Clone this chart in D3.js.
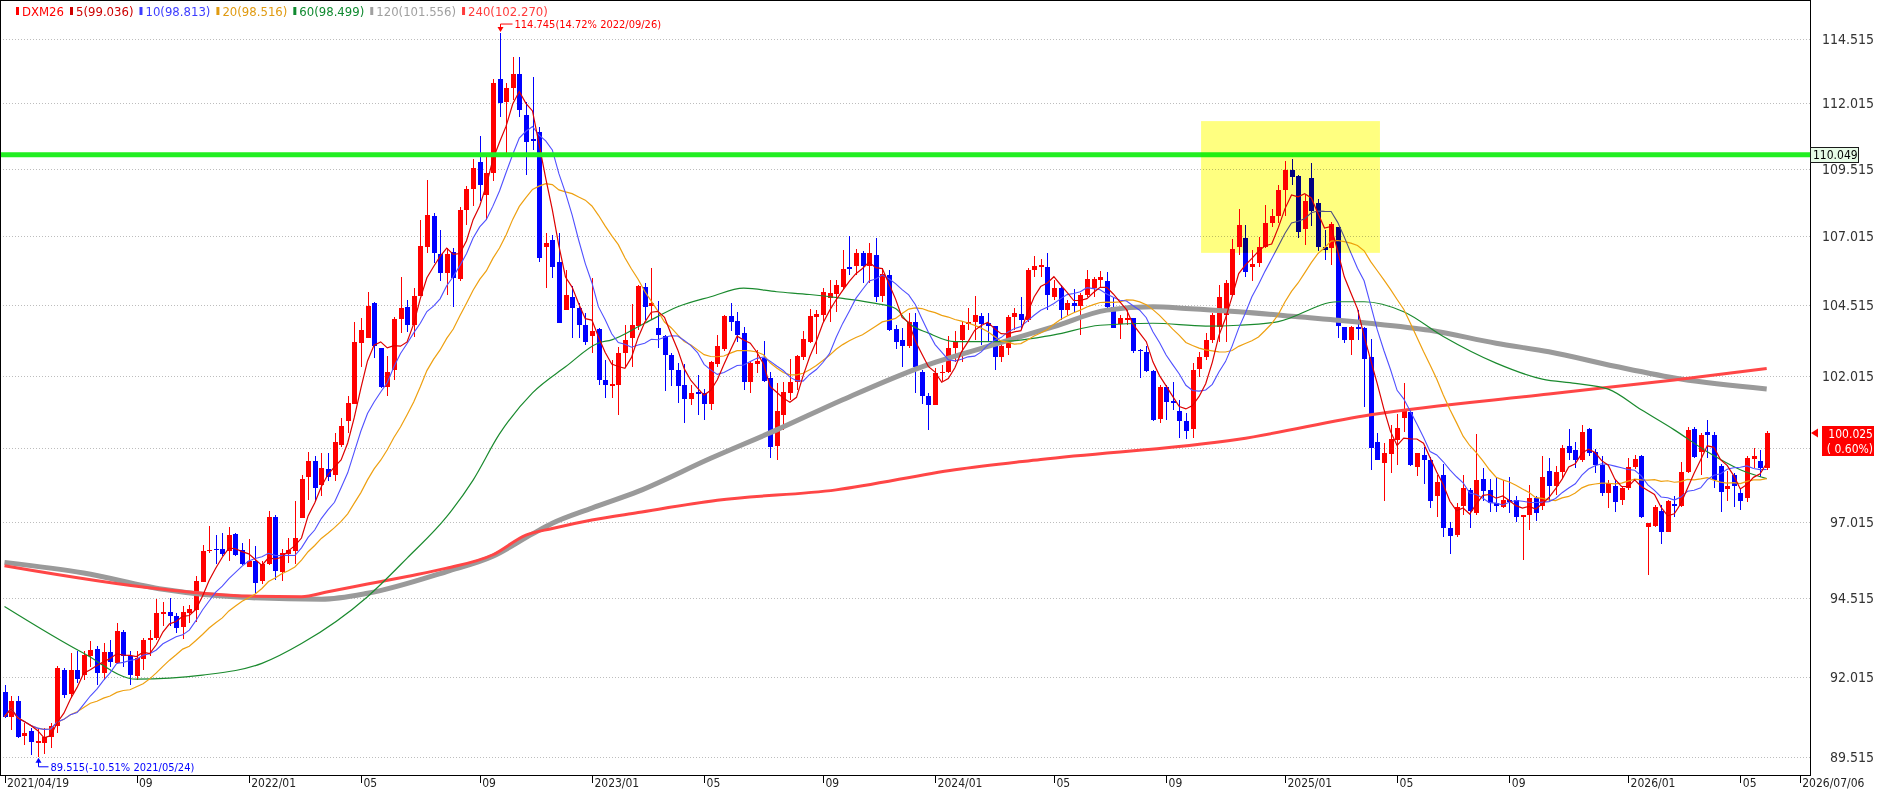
<!DOCTYPE html>
<html>
<head>
<meta charset="utf-8">
<script src="https://cdn.jsdelivr.net/npm/d3@7"></script>
<style>
  body { margin: 0; background: #fff; }
  text { font-family: "DejaVu Sans Condensed", "Liberation Sans Narrow", sans-serif; }
</style>
</head>
<body>
<script>
// weekly candles, DXM26, first week 2021/04/19
const startDate = "2021-04-19";
const endDate = "2026-07-06";

const opens = [
  91.54, 90.76, 91.26, 90.16, 90.32, 89.95, 89.95, 90.12, 90.47, 92.22,
  91.46, 92.22, 92.06, 92.68, 92.90, 92.12, 92.78, 92.45, 93.43, 92.65,
  92.04, 92.57, 93.18, 93.23, 94.02, 94.09, 93.93, 93.59, 94.04, 94.14,
  95.06, 96.05, 96.14, 96.14, 96.08, 96.62, 96.10, 95.55, 95.72, 95.09,
  95.62, 97.20, 95.37, 95.95, 96.08, 97.15, 98.55, 99.06, 98.27, 98.80,
  98.59, 99.62, 100.43, 101.05, 103.16, 103.34, 104.60, 103.01, 101.64, 102.22,
  104.04, 104.46, 103.80, 104.85, 106.64, 107.77, 106.38, 105.68, 106.44, 105.46,
  107.99, 108.75, 109.79, 108.55, 109.35, 112.95, 112.07, 112.59, 113.15, 111.56,
  110.66, 110.90, 106.62, 106.88, 106.07, 104.35, 104.82, 104.40, 103.80, 103.42,
  103.66, 101.87, 101.65, 101.70, 102.80, 103.36, 103.77, 105.17, 104.47, 103.70,
  103.40, 102.75, 102.22, 101.70, 101.22, 101.46, 101.42, 101.02, 102.43, 102.95,
  104.13, 103.95, 103.53, 101.81, 102.43, 102.64, 101.93, 99.59, 100.66, 101.42,
  101.81, 102.66, 103.22, 104.10, 104.17, 104.76, 104.92, 105.17, 105.88, 105.92,
  106.40, 105.92, 106.33, 104.85, 105.61, 103.66, 103.28, 103.05, 103.93, 102.16,
  101.30, 101.00, 102.13, 102.16, 102.98, 103.29, 103.85, 103.93, 104.13, 103.88,
  103.78, 102.66, 103.01, 104.10, 104.20, 104.00, 105.79, 105.88, 105.88, 104.82,
  105.13, 104.34, 104.58, 104.49, 104.88, 105.13, 105.44, 105.37, 104.46, 103.85,
  104.00, 104.05, 102.91, 102.85, 102.20, 100.51, 101.62, 101.12, 100.78, 100.43,
  100.17, 102.24, 102.66, 103.28, 103.75, 104.17, 104.88, 106.64, 106.94, 105.88,
  106.04, 106.64, 107.50, 107.75, 108.73, 109.48, 109.26, 107.30, 109.17, 108.24,
  106.64, 106.60, 107.34, 103.75, 103.29, 103.75, 103.70, 102.68, 99.73, 99.00,
  99.32, 99.80, 100.54, 100.77, 98.88, 99.28, 99.11, 97.88, 98.61, 96.83,
  96.60, 97.55, 98.11, 97.32, 98.46, 98.08, 97.67, 97.52, 97.77, 97.77,
  97.20, 97.26, 97.82, 97.55, 98.75, 98.24, 98.69, 99.59, 99.45, 99.11,
  100.17, 99.39, 98.94, 97.98, 98.24, 97.75, 98.17, 98.87, 99.25, 96.85,
  96.89, 97.40, 96.70, 97.63, 97.56, 98.69, 100.17, 99.39, 100.07, 99.95,
  98.90, 98.13, 98.61, 97.98, 97.84, 99.14, 99.06, 98.84
];

const highs = [
  91.75, 91.39, 91.39, 90.56, 90.40, 90.40, 90.40, 90.57, 92.35, 92.27,
  92.76, 92.81, 92.81, 93.13, 92.97, 93.08, 93.18, 93.72, 93.48, 92.81,
  92.81, 93.23, 93.50, 94.49, 94.41, 94.52, 94.04, 94.27, 94.30, 95.25,
  96.27, 96.89, 96.60, 96.67, 96.85, 96.66, 96.33, 96.46, 96.22, 95.74,
  97.39, 97.26, 96.12, 96.50, 97.71, 98.61, 99.39, 99.25, 99.34, 99.34,
  100.03, 100.55, 101.30, 103.93, 104.07, 105.00, 104.64, 103.01, 102.70, 104.10,
  105.55, 104.70, 105.13, 107.62, 109.11, 107.89, 107.25, 106.59, 106.59, 108.09,
  108.87, 109.88, 110.77, 110.05, 112.95, 114.745, 112.79, 113.82, 113.82, 112.07,
  113.01, 111.10, 107.13, 107.06, 107.13, 105.78, 105.19, 104.58, 104.23, 105.49,
  103.70, 102.56, 102.56, 103.02, 103.80, 104.55, 105.25, 105.31, 105.85, 104.68,
  103.46, 102.80, 102.45, 102.42, 101.70, 102.05, 101.57, 102.52, 103.46, 104.17,
  104.58, 104.29, 103.74, 102.52, 102.91, 103.23, 102.16, 101.78, 101.81, 102.62,
  102.75, 103.59, 104.37, 104.34, 105.13, 105.43, 105.43, 106.52, 107.02, 106.55,
  106.46, 106.76, 106.94, 105.85, 105.80, 103.80, 103.70, 104.23, 104.23, 102.22,
  101.40, 102.28, 102.40, 103.40, 103.59, 103.93, 104.40, 104.85, 104.23, 104.23,
  103.78, 103.28, 104.17, 104.40, 104.82, 105.85, 106.28, 106.18, 106.40, 105.43,
  105.25, 104.70, 105.09, 104.94, 105.79, 105.55, 105.76, 105.73, 104.76, 104.17,
  104.40, 104.05, 102.95, 103.05, 102.22, 101.70, 101.70, 101.81, 101.18, 100.72,
  102.45, 102.86, 103.52, 104.23, 105.25, 105.43, 106.91, 108.02, 107.44, 106.52,
  106.98, 108.18, 108.02, 108.91, 109.83, 109.88, 109.29, 108.54, 109.76, 108.39,
  107.25, 107.56, 107.36, 103.75, 103.77, 104.34, 103.75, 103.30, 100.03, 99.68,
  100.31, 100.70, 101.76, 100.83, 99.35, 99.56, 99.22, 98.61, 98.96, 97.04,
  97.65, 98.61, 98.17, 100.00, 98.84, 98.46, 98.55, 98.43, 98.52, 97.88,
  97.26, 98.26, 97.88, 99.26, 99.19, 98.90, 99.62, 100.17, 99.74, 100.31,
  100.22, 99.47, 99.26, 98.44, 98.44, 98.24, 99.17, 99.28, 99.28, 97.00,
  97.59, 97.59, 97.77, 97.88, 99.05, 100.24, 100.24, 100.03, 100.48, 100.05,
  98.96, 98.73, 98.67, 98.13, 99.25, 99.51, 99.45, 100.10
];

const lows = [
  90.70, 90.35, 90.09, 89.88, 89.57, 89.515, 89.60, 89.78, 90.26, 91.35,
  91.35, 91.80, 91.90, 92.33, 91.75, 91.90, 92.33, 92.40, 92.33, 91.75,
  91.90, 92.22, 92.65, 93.16, 93.61, 93.61, 93.39, 93.20, 93.72, 93.75,
  95.04, 95.99, 95.62, 95.90, 95.74, 95.91, 95.60, 95.55, 94.68, 94.98,
  95.59, 95.10, 95.07, 95.68, 95.62, 97.15, 97.76, 97.71, 97.90, 98.40,
  98.40, 99.56, 100.03, 101.05, 102.34, 103.34, 102.64, 101.59, 101.30, 101.87,
  103.52, 103.57, 103.39, 104.85, 106.40, 106.04, 105.40, 104.89, 104.46, 105.40,
  107.44, 108.12, 108.31, 107.62, 109.05, 111.50, 110.11, 112.14, 111.50, 109.29,
  110.24, 106.09, 105.13, 105.49, 103.87, 104.35, 103.34, 103.34, 103.10, 102.82,
  101.70, 101.24, 101.24, 100.66, 102.34, 102.34, 103.62, 104.00, 104.00, 102.99,
  101.50, 101.66, 101.07, 100.39, 101.00, 100.66, 100.48, 100.81, 102.34, 102.89,
  103.59, 103.22, 101.53, 101.42, 102.10, 101.81, 99.17, 99.11, 100.14, 101.18,
  101.53, 102.56, 103.16, 102.77, 103.93, 103.93, 104.28, 105.08, 105.61, 105.61,
  105.31, 105.31, 104.64, 104.64, 103.59, 102.97, 102.34, 102.99, 101.42, 101.04,
  100.14, 101.00, 101.82, 102.11, 102.51, 102.51, 103.62, 103.28, 103.10, 103.22,
  102.22, 102.51, 102.75, 103.62, 103.62, 103.93, 105.55, 105.55, 104.34, 104.70,
  103.98, 104.17, 104.23, 103.46, 104.82, 104.82, 105.13, 104.34, 103.70, 103.30,
  103.80, 102.82, 101.93, 102.16, 100.43, 100.38, 100.49, 100.83, 99.85, 99.82,
  99.85, 101.99, 102.58, 103.16, 103.22, 103.22, 104.88, 106.34, 105.55, 105.40,
  105.88, 106.58, 107.37, 107.50, 107.75, 108.91, 106.94, 106.70, 107.38, 106.46,
  106.15, 105.97, 103.34, 103.16, 102.73, 103.28, 100.94, 98.78, 99.11, 97.72,
  98.67, 98.95, 100.05, 98.89, 98.58, 98.30, 97.49, 97.18, 96.54, 95.97,
  96.54, 97.26, 96.81, 97.26, 97.71, 97.37, 97.37, 97.49, 97.32, 97.03,
  95.77, 96.77, 97.07, 97.42, 97.71, 97.92, 98.46, 99.11, 98.84, 99.05,
  99.25, 98.67, 97.88, 97.49, 97.37, 97.59, 98.11, 98.80, 97.15, 95.26,
  96.87, 96.30, 96.70, 97.20, 97.54, 98.67, 99.17, 98.61, 99.17, 98.17,
  97.37, 97.71, 97.52, 97.41, 97.68, 98.84, 98.52, 98.78
];

const closes = [
  90.76, 91.26, 90.14, 90.26, 89.98, 90.00, 90.12, 90.47, 92.30, 91.44,
  92.22, 91.93, 92.70, 92.86, 92.12, 92.78, 92.47, 93.45, 92.65, 92.06,
  92.60, 93.18, 93.23, 94.04, 94.09, 93.93, 93.55, 94.07, 94.17, 95.09,
  96.05, 96.09, 96.09, 95.97, 96.60, 95.94, 95.62, 95.72, 95.03, 95.64,
  97.20, 95.40, 96.01, 96.09, 96.50, 98.46, 99.08, 98.17, 98.83, 98.55,
  99.74, 100.26, 101.07, 103.22, 103.64, 104.49, 103.05, 101.64, 102.16, 104.04,
  104.40, 103.80, 104.85, 106.66, 107.81, 106.40, 105.68, 106.38, 105.50, 107.97,
  108.75, 109.54, 108.91, 109.35, 112.81, 112.03, 112.59, 113.15, 111.75, 110.54,
  110.57, 106.22, 106.78, 105.90, 103.87, 104.88, 104.40, 103.80, 103.22, 103.61,
  101.87, 101.70, 101.72, 102.80, 103.28, 103.80, 105.19, 104.44, 104.61, 103.45,
  102.73, 102.22, 101.66, 101.22, 101.43, 101.38, 101.02, 102.49, 103.05, 104.13,
  103.93, 103.46, 101.81, 102.48, 102.53, 101.85, 99.56, 100.78, 101.46, 101.81,
  102.71, 103.31, 104.13, 104.20, 105.00, 104.97, 105.25, 105.82, 105.82, 106.40,
  105.92, 106.40, 104.82, 105.64, 103.64, 103.22, 103.08, 103.93, 102.34, 101.32,
  101.00, 102.13, 102.16, 102.98, 103.22, 103.80, 103.93, 104.17, 103.85, 103.78,
  102.66, 103.05, 104.10, 104.23, 104.00, 105.79, 105.94, 105.97, 104.88, 105.13,
  104.34, 104.58, 104.49, 104.88, 105.46, 105.46, 105.52, 104.46, 103.70, 104.05,
  104.05, 102.89, 102.89, 102.20, 100.49, 101.64, 101.09, 101.06, 100.43, 100.09,
  102.22, 102.68, 103.28, 104.17, 104.80, 105.31, 106.55, 107.44, 105.73, 106.01,
  106.64, 107.52, 107.77, 108.73, 109.48, 109.23, 107.18, 108.33, 107.94, 106.64,
  106.52, 107.47, 103.77, 103.29, 103.73, 103.66, 102.62, 99.53, 99.11, 99.36,
  99.82, 100.20, 100.81, 98.95, 99.35, 99.11, 97.72, 98.38, 96.81, 96.57,
  97.52, 98.17, 97.39, 98.44, 98.05, 97.67, 97.55, 97.77, 97.68, 97.18,
  97.26, 97.84, 97.32, 98.55, 98.24, 98.70, 99.51, 99.36, 99.11, 100.05,
  99.36, 98.94, 97.98, 98.33, 97.68, 98.17, 98.87, 99.14, 97.20, 97.00,
  97.53, 96.70, 97.71, 97.56, 98.70, 100.12, 99.22, 99.98, 99.95, 98.44,
  98.03, 98.24, 98.24, 97.71, 99.17, 99.25, 98.84, 100.025
];

// long averages: [week number, value]
const ma60Points = [
  [0, 94.25], [12, 92.75], [20, 91.93], [30, 92.06], [39, 92.43], [45, 93.06], [55, 94.57],
  [61, 95.83], [67, 97.20], [71, 98.43], [75, 100.0], [80, 101.42], [85, 102.33], [90, 103.17],
  [92, 103.28], [97, 103.87], [102, 104.46], [107, 104.82], [112, 105.13], [117, 105.0],
  [122, 104.9], [127, 104.76], [132, 104.58], [135, 104.40], [137, 103.87], [140, 103.52],
  [144, 103.22], [151, 103.22], [159, 103.46], [166, 103.80], [174, 103.87], [182, 103.77],
  [187, 103.80], [193, 103.93], [202, 104.64], [206, 104.64], [212, 104.28], [218, 103.40],
  [226, 102.46], [233, 101.90], [238, 101.75], [243, 101.55], [248, 100.83], [253, 100.14],
  [258, 99.39], [263, 98.78], [267, 98.48]
];
const ma120Points = [
  [0, 95.69], [12, 95.34], [24, 94.81], [36, 94.55], [48, 94.49], [55, 94.68], [67, 95.39],
  [74, 95.89], [80, 96.63], [83, 96.98], [89, 97.49], [96, 98.05], [107, 99.17], [117, 100.14],
  [127, 101.18], [139, 102.33], [149, 103.05], [159, 103.75], [167, 104.34], [174, 104.46],
  [179, 104.40], [187, 104.28], [196, 104.10], [206, 103.89], [216, 103.62], [226, 103.16],
  [234, 102.86], [244, 102.35], [254, 101.90], [267, 101.556]
];
const ma240Points = [
  [0, 95.58], [24, 94.81], [37, 94.59], [45, 94.57], [49, 94.73], [55, 94.98], [61, 95.23],
  [67, 95.50], [74, 95.94], [79, 96.59], [83, 96.81], [89, 97.09], [96, 97.34], [108, 97.75],
  [126, 98.10], [144, 98.78], [157, 99.13], [187, 99.82], [207, 100.66], [234, 101.38],
  [253, 101.87], [267, 102.27]
];

const yTickValues = [89.515, 92.015, 94.515, 97.015, 99.515, 102.015, 104.515, 107.015, 109.515, 112.015, 114.515];
const xTickMonths = [
  ["2021-04-19", "2021/04/19"], ["2021-09-01", "09"], ["2022-01-01", "2022/01"], ["2022-05-01", "05"],
  ["2022-09-01", "09"], ["2023-01-01", "2023/01"], ["2023-05-01", "05"], ["2023-09-01", "09"],
  ["2024-01-01", "2024/01"], ["2024-05-01", "05"], ["2024-09-01", "09"], ["2025-01-01", "2025/01"],
  ["2025-05-01", "05"], ["2025-09-01", "09"], ["2026-01-01", "2026/01"], ["2026-05-01", "05"],
  ["2026-07-06", "2026/07/06"]
];

const legendNames = ["DXM26", "5", "10", "20", "60", "120", "240"];
const legendValues = [null, "99.036", "98.813", "98.516", "98.499", "101.556", "102.270"];
const legendColors = ["#ff0000", "#cc0000", "#3c3cff", "#e09a10", "#108a30", "#a0a0a0", "#ff3c3c"];

const resistance = 110.049;
const lastPrice = "100.025";
const lastChange = "( 0.60%)";
const highNote = "114.745(14.72% 2022/09/26)";
const lowNote = "89.515(-10.51% 2021/05/24)";
// highlighted zone: week range and price range
const zoneWeeks = [181.3, 208.4];
const zonePrices = [106.41, 111.33];

const width = 1877, height = 793;
const plotRight = 1810, plotBottom = 775;

const parseDate = d3.utcParse("%Y-%m-%d");
const t0 = parseDate(startDate), t1 = parseDate(endDate);
const weekDate = i => d3.utcMonday.offset(t0, i);

const x = d3.scaleUtc().domain([t0, t1]).range([4.5, 1799.7]);
const y = d3.scaleLog().domain([88.958, 116.053]).range([plotBottom, 0]);

const svg = d3.select("body").append("svg")
    .attr("width", width)
    .attr("height", height);

svg.append("rect").attr("width", width).attr("height", height).attr("fill", "#fff");

// grid
const grid = svg.append("g")
    .attr("transform", "translate(" + plotRight + ",0)")
    .call(d3.axisLeft(y).tickValues(yTickValues).tickSize(plotRight).tickFormat(""));
grid.select(".domain").remove();
grid.selectAll("line")
    .attr("stroke", "#bdbdbd")
    .attr("stroke-dasharray", "1,2")
    .attr("shape-rendering", "crispEdges");

// y labels
const yAxis = svg.append("g")
    .attr("transform", "translate(1874,0)")
    .call(d3.axisLeft(y).tickValues(yTickValues).tickSize(0).tickPadding(0).tickFormat(d3.format(".3f")));
yAxis.select(".domain").remove();
yAxis.selectAll("text")
    .attr("fill", "#333")
    .style("font-size", "14px")
    .style("font-family", '"DejaVu Sans Condensed", sans-serif');

// x axis
const tickDates = xTickMonths.map(d => d[1].length <= 7
    ? d3.utcMonday.ceil(parseDate(d[0])) : parseDate(d[0]));
const tickLabel = new Map(tickDates.map((d, i) => [+d, xTickMonths[i][1]]));
const xAxis = svg.append("g")
    .attr("transform", "translate(0," + plotBottom + ")")
    .call(d3.axisBottom(x).tickValues(tickDates).tickSize(8).tickFormat(d => tickLabel.get(+d)));
xAxis.select(".domain").remove();
xAxis.selectAll("line").attr("stroke", "#000").attr("shape-rendering", "crispEdges");
xAxis.selectAll("text")
    .attr("text-anchor", "start")
    .attr("x", 2)
    .attr("y", 3)
    .attr("dy", "0.71em")
    .attr("fill", "#222")
    .style("font-size", "12px")
    .style("font-family", '"DejaVu Sans Condensed", sans-serif');

// candles
const candles = closes.map((c, i) => ({
    date: weekDate(i), o: opens[i], h: highs[i], l: lows[i], c: c
}));
const upColor = "#ff0000", downColor = "#0000ff";
const cx = d => Math.round(x(d.date));

const candle = svg.append("g").attr("shape-rendering", "crispEdges")
    .selectAll("g").data(candles).join("g")
    .attr("fill", d => d.c >= d.o ? upColor : downColor)
    .attr("stroke", d => d.c >= d.o ? upColor : downColor);

candle.append("line")
    .attr("x1", d => cx(d) + 0.5).attr("x2", d => cx(d) + 0.5)
    .attr("y1", d => y(d.h)).attr("y2", d => y(d.l));

candle.append("rect")
    .attr("stroke", "none")
    .attr("x", d => cx(d) - 2)
    .attr("width", 5)
    .attr("y", d => y(Math.max(d.o, d.c)))
    .attr("height", d => Math.max(1, Math.abs(y(d.o) - y(d.c))));

// moving averages
function movingAverage(n) {
    return closes.map((c, i) => d3.mean(closes.slice(Math.max(0, i - n + 1), i + 1)));
}

const sampledLine = d3.line()
    .x(d => x(weekDate(d[0])))
    .y(d => y(d[1]))
    .curve(d3.curveMonotoneX);
const seriesLine = d3.line()
    .x((d, i) => x(weekDate(i)))
    .y(d => y(d));

const lines = svg.append("g").attr("fill", "none");
lines.append("path").attr("d", sampledLine(ma120Points)).attr("stroke", "#9a9a9a").attr("stroke-width", 5);
lines.append("path").attr("d", sampledLine(ma240Points)).attr("stroke", "#ff4646").attr("stroke-width", 3);
lines.append("path").attr("d", sampledLine(ma60Points)).attr("stroke", "#1a8a2e").attr("stroke-width", 1.2);
lines.append("path").attr("d", seriesLine(movingAverage(20))).attr("stroke", "#eea010").attr("stroke-width", 1.2);
lines.append("path").attr("d", seriesLine(movingAverage(10))).attr("stroke", "#5050ff").attr("stroke-width", 1.1);
lines.append("path").attr("d", seriesLine(movingAverage(5))).attr("stroke", "#dd0000").attr("stroke-width", 1.2);

// resistance line
svg.append("line")
    .attr("x1", 0).attr("x2", plotRight)
    .attr("y1", y(resistance)).attr("y2", y(resistance))
    .attr("stroke", "#22ee22").attr("stroke-width", 5);

// highlighted zone (multiplied over the chart)
const weekW = x(weekDate(1)) - x(weekDate(0));
svg.append("rect")
    .attr("x", x(weekDate(0)) + weekW * zoneWeeks[0])
    .attr("width", weekW * (zoneWeeks[1] - zoneWeeks[0]))
    .attr("y", y(zonePrices[1]))
    .attr("height", y(zonePrices[0]) - y(zonePrices[1]))
    .attr("fill", "#ffff80")
    .style("mix-blend-mode", "multiply");

// high / low notes
const hiIdx = highs.indexOf(d3.max(highs));
const loIdx = lows.indexOf(d3.min(lows));
const hx = cx(candles[hiIdx]) + 0.5, hy = y(highs[hiIdx]);
const lx = cx(candles[loIdx]) + 0.5, ly = y(lows[loIdx]);

const notes = svg.append("g").attr("fill", "none");
notes.append("path").attr("d", `M${hx},${hy - 3}V${hy - 9}H${hx + 12}`).attr("stroke", "#ff0000");
notes.append("path").attr("d", `M${hx - 3},${hy - 6}L${hx + 3},${hy - 6}L${hx},${hy - 1}Z`).attr("fill", "#ff0000");
notes.append("text").attr("x", hx + 14).attr("y", hy - 9).attr("dy", "0.35em")
    .attr("fill", "#ff0000").style("font-size", "11px").text(highNote);

notes.append("path").attr("d", `M${lx},${ly + 3}V${ly + 10}H${lx + 10}`).attr("stroke", "#0000ff");
notes.append("path").attr("d", `M${lx - 3},${ly + 6}L${lx + 3},${ly + 6}L${lx},${ly + 1}Z`).attr("fill", "#0000ff");
notes.append("text").attr("x", lx + 12).attr("y", ly + 10).attr("dy", "0.35em")
    .attr("fill", "#0000ff").style("font-size", "11px").text(lowNote);

// frame
svg.append("rect")
    .attr("x", 0.5).attr("y", 0.5)
    .attr("width", plotRight).attr("height", plotBottom)
    .attr("fill", "none").attr("stroke", "#000")
    .attr("shape-rendering", "crispEdges");

// right side price tags
const ry = Math.round(y(resistance));
svg.append("rect")
    .attr("x", plotRight + 0.5).attr("y", ry - 7.5)
    .attr("width", 48).attr("height", 15)
    .attr("fill", "#e6fbe6").attr("stroke", "#1a1a1a")
    .attr("shape-rendering", "crispEdges");
svg.append("text")
    .attr("x", plotRight + 3).attr("y", ry).attr("dy", "0.36em")
    .attr("fill", "#000").style("font-size", "12px")
    .text(d3.format(".3f")(resistance));

const py = Math.round(y(+lastPrice));
svg.append("path")
    .attr("d", `M${plotRight + 1},${py}L${plotRight + 8},${py - 4.5}L${plotRight + 8},${py + 4.5}Z`)
    .attr("fill", "#ff0000");
svg.append("rect")
    .attr("x", 1822).attr("y", py - 7)
    .attr("width", 52).attr("height", 30)
    .attr("fill", "#ff0000");
svg.append("text")
    .attr("x", 1873).attr("y", py + 0.5).attr("dy", "0.36em")
    .attr("text-anchor", "end").attr("fill", "#fff").style("font-size", "12px")
    .text(lastPrice);
svg.append("text")
    .attr("x", 1873).attr("y", py + 15.5).attr("dy", "0.36em")
    .attr("text-anchor", "end").attr("fill", "#fff").style("font-size", "12px")
    .text(lastChange);

// legend
const legend = svg.append("g");
let legendX = 16;
legendNames.forEach((name, i) => {
    legend.append("rect")
        .attr("x", legendX).attr("y", 7)
        .attr("width", 3).attr("height", 8)
        .attr("fill", legendColors[i]);
    const t = legend.append("text")
        .attr("x", legendX + 6).attr("y", 11).attr("dy", "0.36em")
        .attr("fill", legendColors[i]).style("font-size", "13px")
        .text(legendValues[i] ? name + "(" + legendValues[i] + ")" : name);
    legendX += 6 + t.node().getComputedTextLength() + 6;
});
</script>
</body>
</html>
